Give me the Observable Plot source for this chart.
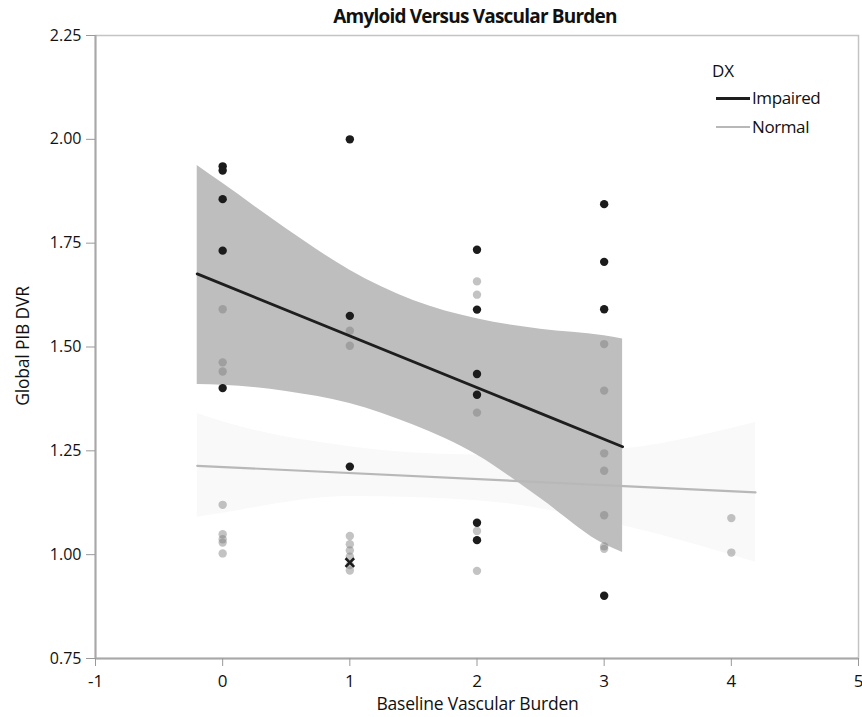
<!DOCTYPE html>
<html>
<head>
<meta charset="utf-8">
<script src="https://cdn.jsdelivr.net/npm/d3@7"></script>
<script src="https://cdn.jsdelivr.net/npm/@observablehq/plot@0.6"></script>
<style>
  html, body { margin: 0; padding: 0; background: white; }
  #wrap { position: relative; width: 862px; height: 717px; font-family: "Open Sans", "Noto Sans", sans-serif; color: #111; }
  .ov { position: absolute; white-space: nowrap; }
</style>
</head>
<body>
<div id="wrap"></div>
<script>
// ---- data ----
const xTicks = [-1, 0, 1, 2, 3, 4, 5];
const yTicks = [0.75, 1.00, 1.25, 1.50, 1.75, 2.00, 2.25];

const impairedX = [0, 0, 0, 0, 0, 1, 1, 1, 2, 2, 2, 2, 2, 2, 3, 3, 3, 3];
const impairedY = [1.935, 1.925, 1.856, 1.732, 1.401, 2.00, 1.575, 1.212, 1.734, 1.590, 1.435, 1.385, 1.077, 1.035, 1.844, 1.705, 1.591, 0.901];

const normalX = [0, 0, 0, 0, 0, 0, 0, 0, 1, 1, 1, 1, 1, 1, 1, 1, 2, 2, 2, 2, 2, 3, 3, 3, 3, 3, 3, 3, 4, 4];
const normalY = [1.591, 1.463, 1.441, 1.120, 1.049, 1.037, 1.029, 1.003, 1.539, 1.503, 1.045, 1.025, 1.010, 0.995, 0.975, 0.962, 1.658, 1.626, 1.342, 1.057, 0.961, 1.507, 1.395, 1.244, 1.202, 1.095, 1.020, 1.014, 1.088, 1.005];

const crossX = [1];
const crossY = [0.981];

// fit lines (read at their end points)
const impLineX = [-0.2, 3.145];
const impLineY = [1.676, 1.260];
const normLineX = [-0.2, 4.19];
const normLineY = [1.214, 1.150];

// confidence bands
const impBandX = [-0.2, 0, 0.5, 1, 1.5, 2, 2.5, 3, 3.145];
const impBandLo = [1.410, 1.408, 1.393, 1.364, 1.312, 1.240, 1.135, 1.025, 1.005];
const impBandHi = [1.937, 1.894, 1.785, 1.685, 1.612, 1.568, 1.543, 1.527, 1.519];

const normBandX = [-0.2, 0, 1, 2, 3, 4.19];
const normBandLo = [1.090, 1.100, 1.140, 1.130, 1.080, 0.982];
const normBandHi = [1.340, 1.320, 1.260, 1.240, 1.250, 1.318];

const legendLabels = ["Impaired", "Normal"];

// ---- build tables ----
const impaired = impairedX.map((x, i) => ({x, y: impairedY[i]}));
const normal = normalX.map((x, i) => ({x, y: normalY[i]}));
const cross = crossX.map((x, i) => ({x, y: crossY[i]}));
const impLine = impLineX.map((x, i) => ({x, y: impLineY[i]}));
const normLine = normLineX.map((x, i) => ({x, y: normLineY[i]}));
const impBand = impBandX.map((x, i) => ({x, lo: impBandLo[i], hi: impBandHi[i]}));
const normBand = normBandX.map((x, i) => ({x, lo: normBandLo[i], hi: normBandHi[i]}));

const chart = Plot.plot({
  width: 862,
  height: 717,
  marginLeft: 95,
  marginRight: 4,
  marginTop: 35,
  marginBottom: 59,
  x: {domain: [-1, 5]},
  y: {domain: [0.75, 2.25]},
  style: {fontFamily: '"Open Sans", "Noto Sans", sans-serif', fontSize: "16px", color: "#111", background: "white"},
  marks: [
    Plot.frame({stroke: "#c4c4c4", strokeWidth: 1.5}),
    Plot.areaY(normBand, {x: "x", y1: "lo", y2: "hi", fill: "#f9f9f9", curve: "monotone-x"}),
    Plot.areaY(impBand, {x: "x", y1: "lo", y2: "hi", fill: "#bebebe", curve: "monotone-x"}),
    Plot.dot(normal, {x: "x", y: "y", r: 4.2, fill: "#7a7a7a", fillOpacity: 0.45, stroke: "none"}),
    Plot.dot(impaired, {x: "x", y: "y", r: 4.2, fill: "#1c1c1c", stroke: "none"}),
    Plot.dot(cross, {x: "x", y: "y", r: 4, symbol: "times", stroke: "#1c1c1c", strokeWidth: 2.5}),
    Plot.line(normLine, {x: "x", y: "y", stroke: "#b8b8b8", strokeWidth: 2.2}),
    Plot.line(impLine, {x: "x", y: "y", stroke: "#1e1e1e", strokeWidth: 2.8}),
    Plot.ruleX([-1], {stroke: "#a8a8a8", strokeWidth: 2}),
    Plot.ruleY([0.75], {stroke: "#a8a8a8", strokeWidth: 2}),
    Plot.axisX({ticks: xTicks, tickSize: 8, tickPadding: 8, tickFormat: d => String(d), stroke: "#999", label: null, fontSize: 17}),
    Plot.axisY({ticks: yTicks, tickSize: 9, tickPadding: 5, tickFormat: d3.format(".2f"), stroke: "#999", label: null, fontSize: 16})
  ]
});

const wrap = document.getElementById("wrap");
wrap.appendChild(chart);

function ov(html, css) {
  const d = document.createElement("div");
  d.className = "ov";
  d.innerHTML = html;
  Object.assign(d.style, css);
  wrap.appendChild(d);
  return d;
}

ov("Amyloid Versus Vascular Burden", {left: "0px", width: "950px", top: "3px", textAlign: "center", fontWeight: "bold", fontSize: "19px", letterSpacing: "-0.8px"});
ov("Baseline Vascular Burden", {left: "95px", width: "765px", top: "691px", textAlign: "center", fontSize: "17.5px", letterSpacing: "-0.2px"});
ov("Global PIB DVR", {left: "22px", top: "346px", fontSize: "17.5px", letterSpacing: "-0.2px", transform: "translate(-50%, -50%) rotate(-90deg)"});

// legend
const legColors = ["#1e1e1e", "#b8b8b8"];
const legWidths = [3, 2];
ov("DX", {left: "712px", top: "59px", fontSize: "17px"});
legendLabels.forEach((lab, i) => {
  ov(`<span style="display:inline-block;width:34px;height:${legWidths[i]}px;background:${legColors[i]};vertical-align:middle;margin-right:2px;position:relative;top:-1px"></span>${lab}`,
     {left: "716px", top: (86 + i * 29) + "px", fontSize: "17px", letterSpacing: "-0.4px"});
});
</script>
</body>
</html>
